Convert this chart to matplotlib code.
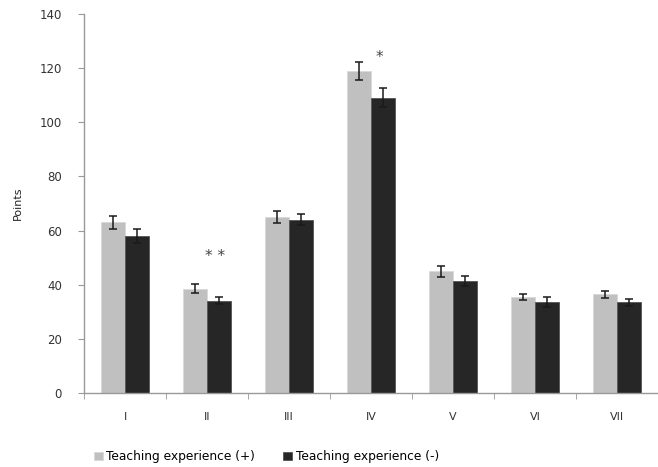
import matplotlib
matplotlib.use("Agg")
import matplotlib.pyplot as plt
import numpy as np

categories = ["I", "II", "III", "IV", "V", "VI", "VII"]
exp_plus = [63, 38.5, 65, 119, 45, 35.5, 36.5]
exp_plus_err = [2.3, 1.7, 2.2, 3.3, 2.0, 1.1, 1.3]
exp_minus = [58, 34, 64, 109, 41.5, 33.5, 33.5]
exp_minus_err = [2.5, 1.3, 2.0, 3.5, 1.8, 1.8, 1.4]
series_labels = ["Teaching experience (+)", "Teaching experience (-)"]
# significance marks: (category index, text, height)
marks = [(1, "* *", 50.5), (3, "*", 124)]

fig = plt.figure(figsize=6.58 * np.array([1, 467 / 658]), dpi=100)
ax = fig.add_axes([0.1277, 0.1585, 0.8723, 0.8115])

x = np.arange(len(categories))
w = 0.29
ekw = dict(ecolor="#1a1a1a", elinewidth=1.1, capsize=3, capthick=1.1)
b1 = ax.bar(x - w / 2, exp_plus, w, yerr=exp_plus_err, color="#c0c0c0",
            edgecolor="#d8d8d8", linewidth=0.6, error_kw=ekw, label=series_labels[0])
b2 = ax.bar(x + w / 2, exp_minus, w, yerr=exp_minus_err, color="#262626",
            edgecolor="#555555", linewidth=0.6, error_kw=ekw, label=series_labels[1])

for i, txt, h in marks:
    ax.text(x[i] + 0.1, h, txt, ha="center", va="center", fontsize=11, color="#444444")

ax.set_xlim(-0.5, len(categories) - 0.5)
ax.set_ylim(0, 140)
ax.set_yticks(np.arange(0, 141, 20))
ax.set_xticks(x)
ax.set_xticklabels(categories, fontsize=8, color="#333333")
ax.set_xticks(np.arange(-0.5, len(categories), 1), minor=True)
ax.tick_params(axis="x", which="major", length=0, pad=14)
ax.tick_params(axis="x", which="minor", length=4, color="#999999", direction="out")
ax.tick_params(axis="y", length=4, color="#999999", labelsize=8.5, labelcolor="#333333", pad=12)
for s in ["top", "right"]:
    ax.spines[s].set_visible(False)
for s in ["left", "bottom"]:
    ax.spines[s].set_color("#999999")
    ax.spines[s].set_linewidth(1)
ax.set_ylabel("Points", fontsize=8, color="#222222", labelpad=12)

fig.legend(handles=[b1, b2], labels=series_labels, loc="center", bbox_to_anchor=(0.405, 0.022),
           ncol=2, frameon=False, fontsize=8.8, handlelength=0.7, handleheight=0.7,
           handletextpad=0.3, columnspacing=2.3)

fig.savefig("out.png", dpi=100)
